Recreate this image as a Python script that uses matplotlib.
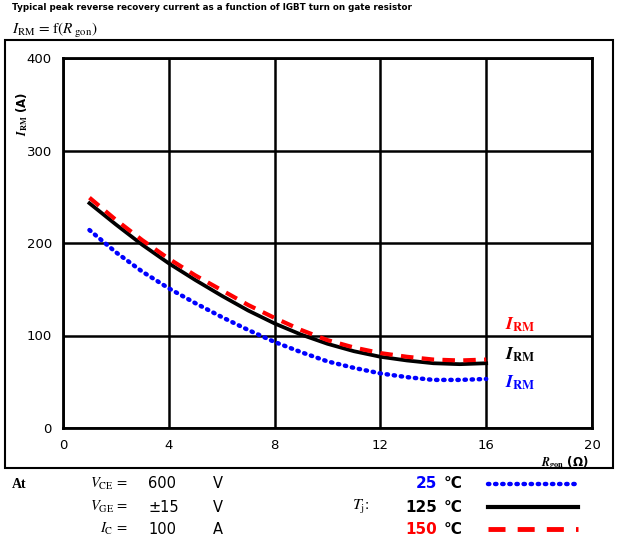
import matplotlib
matplotlib.use("Agg")
import matplotlib.pyplot as plt
from matplotlib.patches import Rectangle
from matplotlib.lines import Line2D

plt.rcParams['mathtext.fontset'] = 'stix'

# Data
rg = [1, 2, 3, 4, 5, 6, 7, 8, 9, 10, 11, 12, 13, 14, 15, 16]
irm_25 = [214, 190, 169, 151, 135, 120, 106, 93, 82, 72, 65, 59, 55, 52, 52, 53]
irm_125 = [243, 220, 198, 178, 160, 143, 127, 113, 101, 91, 83, 77, 73, 70, 69, 70]
irm_150 = [249, 225, 203, 183, 165, 149, 133, 119, 106, 95, 87, 81, 77, 74, 73, 74]

x_ticks = [0, 4, 8, 12, 16, 20]
y_ticks = [0, 100, 200, 300, 400]

W, H = 621, 544
fig = plt.figure(figsize=(W / 100, H / 100), dpi=100)

def fx(px):
    return px / W

def fy(py):
    return 1 - py / H

# outer frame
fig.patches.append(Rectangle((fx(5), fy(468)), fx(613) - fx(5), fy(40) - fy(468),
                             transform=fig.transFigure, fill=False, lw=1.5,
                             edgecolor='black'))

ax = fig.add_axes([fx(63), fy(428), fx(592) - fx(63), fy(58) - fy(428)])

ax.plot(rg, irm_25, color='#0000ff', lw=3.2, linestyle=(0, (0.3, 1.3)),
        dash_capstyle='round', solid_capstyle='round')
ax.plot(rg, irm_125, color='black', lw=2.7)
ax.plot(rg, irm_150, color='#ff0000', lw=3, linestyle=(0, (3, 2)))

ax.set_xlim(0, 20)
ax.set_ylim(0, 400)
ax.set_xticks(x_ticks)
ax.set_yticks(y_ticks)
ax.grid(True, color='black', lw=1.8)
for s in ax.spines.values():
    s.set_linewidth(2)
ax.tick_params(length=0, labelsize=9.5, pad=8)

ax.set_ylabel(r'$\boldsymbol{I}_{\mathbf{RM}}$ (A)', fontsize=8.5, fontweight='bold',
              labelpad=6)
ax.yaxis.set_label_coords(-0.062, 0.85)
fig.text(fx(565), fy(463), r'$\boldsymbol{R}_{\mathbf{gon}}$ (Ω)', fontsize=8.5,
         fontweight='bold', ha='center', va='center')

# curve labels
for py, c in [(325, '#ff0000'), (355, 'black'), (383, '#0000ff')]:
    fig.text(fx(505), fy(py), r'$\boldsymbol{I}_{\mathbf{RM}}$', color=c,
             fontsize=13, ha='left', va='center')

fig.text(fx(12), fy(8), 'Typical peak reverse recovery current as a function of IGBT turn on gate resistor',
         fontsize=6.3, fontweight='bold', ha='left', va='center')
fig.text(fx(12), fy(31), r'$I_{\rm RM}$ = f($R_{\rm\ gon}$)', fontsize=11,
         ha='left', va='center', family='STIXGeneral')

# conditions block
rows = [484, 507, 529]
fig.text(fx(12), fy(rows[0]), 'At', fontsize=10, fontweight='bold',
         family='Liberation Serif', va='center')
cond = [(r'$V_{\rm CE}$ =', '600', 'V'),
        (r'$V_{\rm GE}$ =', '±15', 'V'),
        (r'$I_{\rm C}$ =', '100', 'A')]
for py, (lab, val, unit) in zip(rows, cond):
    fig.text(fx(128), fy(py), lab, fontsize=10.5, ha='right', va='center',
             family='STIXGeneral')
    fig.text(fx(148), fy(py), val, fontsize=10.5, ha='left', va='center')
    fig.text(fx(213), fy(py), unit, fontsize=10.5, ha='left', va='center')

fig.text(fx(352), fy(rows[1]), r'$T_{\rm j}$:', fontsize=11.5, ha='left',
         va='center', family='STIXGeneral')

temps = [('25', '#0000ff'), ('125', 'black'), ('150', '#ff0000')]
for py, (t, c) in zip(rows, temps):
    fig.text(fx(437), fy(py), t, color=c, fontsize=11, fontweight='bold',
             ha='right', va='center')
    fig.text(fx(444), fy(py), '°C', color='black', fontsize=11,
             fontweight='bold', ha='left', va='center')

styles = [dict(color='#0000ff', lw=3.2, linestyle=(0, (0.3, 1.3)),
               dash_capstyle='round'),
          dict(color='black', lw=3),
          dict(color='#ff0000', lw=3.5, linestyle=(0, (3.5, 2.5)))]
for py, st in zip(rows, styles):
    fig.add_artist(Line2D([fx(488), fx(578)], [fy(py), fy(py)],
                          transform=fig.transFigure, **st))

fig.savefig('out.png', dpi=100)
